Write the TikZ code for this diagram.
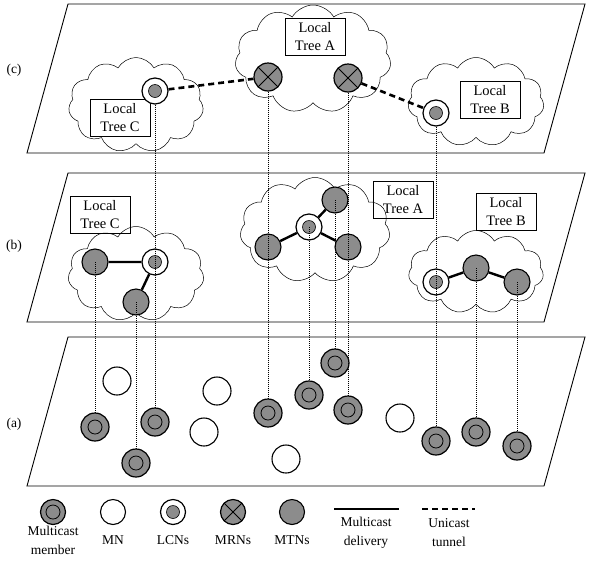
\documentclass[tikz,border=0pt]{standalone}
\usepackage{fontspec}
\setmainfont{Liberation Serif}
\usetikzlibrary{shapes.symbols}
\definecolor{nodegray}{RGB}{140,140,140}
\tikzset{
  member/.style={circle, draw, line width=1.2pt, fill=nodegray, minimum size=28pt, inner sep=0pt,
    path picture={\draw[line width=0.8pt] (path picture bounding box.center) circle (7pt);}},
  mn/.style={circle, draw, line width=1.1pt, fill=white, minimum size=28pt, inner sep=0pt},
  lcn/.style={circle, draw, line width=1.2pt, fill=white, minimum size=26pt, inner sep=0pt,
    path picture={\draw[line width=0.6pt, fill=nodegray] (path picture bounding box.center) circle (6.5pt);}},
  mrn/.style={circle, draw, line width=1.2pt, fill=nodegray, minimum size=28pt, inner sep=0pt,
    path picture={\draw[line width=0.8pt] (path picture bounding box.north east) -- (path picture bounding box.south west)
      (path picture bounding box.north west) -- (path picture bounding box.south east);}},
  mtn/.style={circle, draw, line width=1.1pt, fill=nodegray, minimum size=26pt, inner sep=0pt},
  area/.style={cloud, cloud puffs=11, cloud puff arc=120, cloud ignores aspect, draw, line width=0.5pt},
  tag/.style={draw, line width=0.6pt, align=center, inner sep=2pt, minimum width=60pt, minimum height=37pt,
    font=\fontsize{14.5}{18}\selectfont},
  delivery/.style={line width=2.4pt},
  unicast/.style={line width=2.6pt, dash pattern=on 6pt off 4pt},
  link/.style={line width=0.5pt, dash pattern=on 1pt off 1pt},
  plane/.style={line width=0.9pt},
  label/.style={align=center, font=\fontsize{13.5}{19}\selectfont}
}
\begin{document}
\begin{tikzpicture}[x=1pt, y=-1pt]
  \useasboundingbox (0,0) rectangle (596,563);
  \draw[plane] (68,4) -- (585,4) -- (544,153) -- (27,153) -- cycle;
  \draw[plane] (68,173) -- (585,173) -- (544,322) -- (27,322) -- cycle;
  \draw[plane] (68,337) -- (585,337) -- (544,486) -- (27,486) -- cycle;
  \node[label] (lc) at (14,70) {(c)};
  \node[label] (lb) at (14,246) {(b)};
  \node[label] (la) at (14,424) {(a)};

  \node[area, minimum width=135pt, minimum height=95pt] (cCloudC) at (136,105) {};
  \node[area, minimum width=156pt, minimum height=108pt] (cCloudA) at (313,59) {};
  \node[area, minimum width=136pt, minimum height=89pt] (cCloudB) at (476,102) {};
  \node[tag] (cTagC) at (120,118) {Local\\Tree C};
  \node[tag] (cTagA) at (315,37) {Local\\Tree A};
  \node[tag] (cTagB) at (490,100) {Local\\Tree B};
  \node[lcn] (cC) at (155,91) {};
  \node[mrn] (cA1) at (268,77) {};
  \node[mrn] (cA2) at (348,78) {};
  \node[lcn] (cB) at (436,113) {};
  \draw[unicast] (cC) -- (cA1);
  \draw[unicast] (cA2) -- (cB);

  \node[area, minimum width=136pt, minimum height=95pt] (bCloudC) at (136,274) {};
  \node[area, minimum width=150pt, minimum height=105pt] (bCloudA) at (315,230) {};
  \node[area, minimum width=135pt, minimum height=83pt] (bCloudB) at (476,272) {};
  \node[tag] (bTagC) at (100,215) {Local\\Tree C};
  \node[tag] (bTagA) at (403,200) {Local\\Tree A};
  \node[tag] (bTagB) at (506,212) {Local\\Tree B};
  \node[mtn] (bC1) at (95,262) {};
  \node[lcn] (bC2) at (155,262) {};
  \node[mtn] (bC3) at (136,302) {};
  \node[mtn] (bA1) at (268,247) {};
  \node[lcn] (bA2) at (309,227) {};
  \node[mtn] (bA3) at (335,200) {};
  \node[mtn] (bA4) at (348,247) {};
  \node[lcn] (bB1) at (436,282) {};
  \node[mtn] (bB2) at (476,268) {};
  \node[mtn] (bB3) at (517,282) {};
  \draw[delivery] (bC1) -- (bC2) -- (bC3);
  \draw[delivery] (bA2) -- (bA1);
  \draw[delivery] (bA2) -- (bA3);
  \draw[delivery] (bA2) -- (bA4);
  \draw[delivery] (bB1) -- (bB2) -- (bB3);

  \node[mn] (mn1) at (117,381) {};
  \node[mn] (mn2) at (217,391) {};
  \node[mn] (mn3) at (204,432) {};
  \node[mn] (mn4) at (286,459) {};
  \node[mn] (mn5) at (400,418) {};
  \node[member] (a1) at (95,427) {};
  \node[member] (a2) at (136,463) {};
  \node[member] (a3) at (155,422) {};
  \node[member] (a4) at (268,413) {};
  \node[member] (a5) at (309,395) {};
  \node[member] (a6) at (335,363) {};
  \node[member] (a7) at (348,410) {};
  \node[member] (a8) at (436,441) {};
  \node[member] (a9) at (476,432) {};
  \node[member] (a10) at (517,446) {};

  \draw[link] (cC.south) -- (a3.north);
  \draw[link] (cA1.south) -- (a4.north);
  \draw[link] (cA2.south) -- (a7.north);
  \draw[link] (cB.south) -- (a8.north);
  \draw[link] (bC1.center) -- (a1.north);
  \draw[link] (bC3.center) -- (a2.north);
  \draw[link] (bA2.center) -- (a5.north);
  \draw[link] (bA3.center) -- (a6.north);
  \draw[link] (bB2.center) -- (a9.north);
  \draw[link] (bB3.center) -- (a10.north);

  \node[member, minimum size=25pt] (kMember) at (53,512) {};
  \node[mn, minimum size=25pt] (kMN) at (113,512) {};
  \node[lcn, minimum size=25pt] (kLCN) at (173,512) {};
  \node[mrn, minimum size=25pt] (kMRN) at (233,512) {};
  \node[mtn, minimum size=25pt] (kMTN) at (292,512) {};
  \coordinate (kD1) at (334,509);
  \coordinate (kD2) at (399,509);
  \coordinate (kU1) at (422,509);
  \coordinate (kU2) at (475,509);
  \draw[delivery] (kD1) -- (kD2);
  \draw[unicast] (kU1) -- (kU2);
  \node[label] at (53,540) {Multicast\\member};
  \node[label] at (113,540) {MN};
  \node[label] at (173,540) {LCNs};
  \node[label] at (233,540) {MRNs};
  \node[label] at (292,540) {MTNs};
  \node[label] at (366,533) {Multicast\\delivery};
  \node[label] at (449,533) {Unicast\\tunnel};
\end{tikzpicture}
\end{document}
